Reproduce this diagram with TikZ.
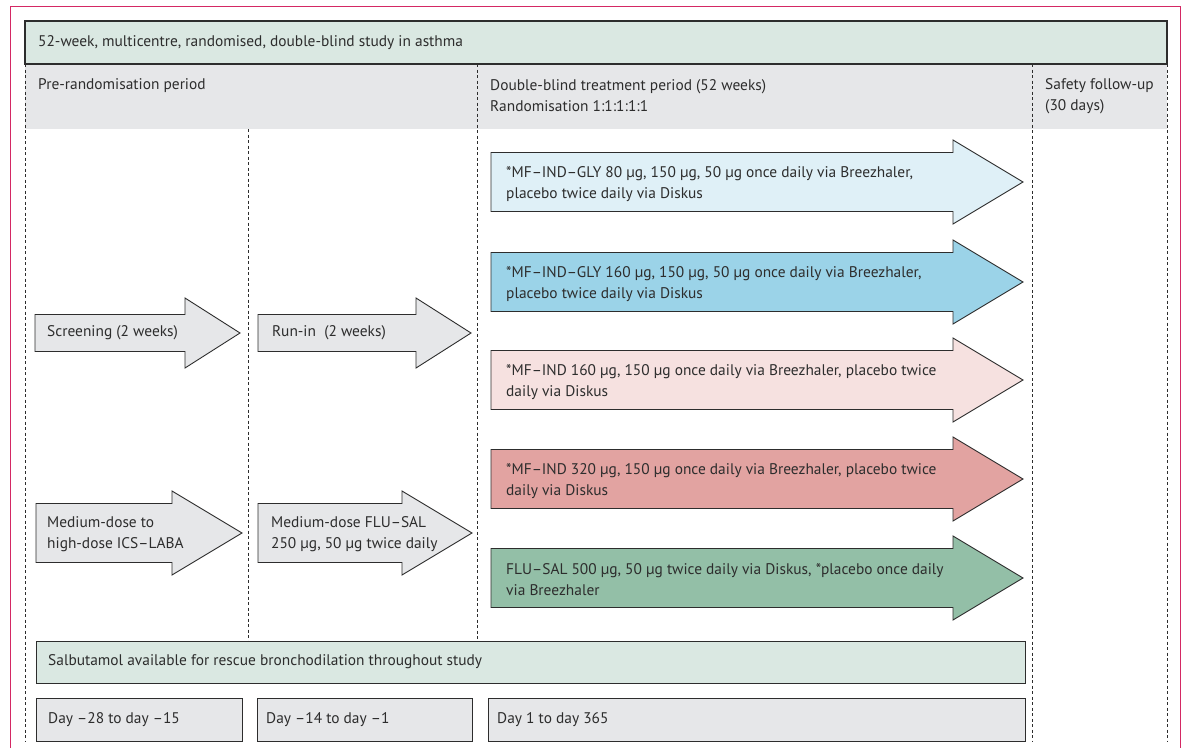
\documentclass[tikz,border=0pt]{standalone}
\usepackage{fontspec}
\setmainfont{PT Sans}
\definecolor{frame}{RGB}{212,40,100}
\definecolor{hdrgreen}{RGB}{218,232,226}
\definecolor{bandgrey}{RGB}{230,231,233}
\definecolor{ink}{RGB}{45,45,45}
\definecolor{aone}{RGB}{223,240,247}
\definecolor{atwo}{RGB}{155,211,232}
\definecolor{athree}{RGB}{246,225,224}
\definecolor{afour}{RGB}{226,163,161}
\definecolor{afive}{RGB}{147,191,167}
\newcommand\fatarrow[8]{%
  \draw[arrowbox, fill=#8] (#2,#5-#6) -- (#3,#5-#6) -- (#3,#5-#7) -- (#4,#5) -- (#3,#5+#7) -- (#3,#5+#6) -- (#2,#5+#6) -- cycle;
  \coordinate (#1) at (#2,#5);}
\begin{document}
\begin{tikzpicture}[x=1pt,y=-1pt,
  arrowbox/.style={draw=ink, line width=0.9pt, line join=miter},
  plainbox/.style={draw=ink, line width=0.9pt},
  divider/.style={draw=ink, line width=0.9pt, dash pattern=on 3pt off 2.5pt},
  lbl/.style={anchor=west, inner sep=0pt, text=ink, font=\fontsize{15.4}{21}\selectfont, align=left}]
\useasboundingbox (0,0) rectangle (1186,748);
% outer frame
\draw[frame, line width=1pt] (10,748) -- (10,6) -- (1180,6) -- (1180,748);
% header + band
\fill[bandgrey] (25,64) rectangle (1167,129);
\draw[plainbox, fill=hdrgreen, line width=1.1pt] (25,21) rectangle (1167,64);
\node[lbl] (title) at (38,43) {52-week, multicentre, randomised, double-blind study in asthma};
% dividers
\draw[divider] (25,64) -- (25,741);
\draw[divider] (248,129) -- (248,641);
\draw[divider] (477,64) -- (477,641);
\draw[divider] (1032,64) -- (1032,741);
\draw[divider] (1167,64) -- (1167,741);
% period labels
\node[lbl] (pre) at (38,86) {Pre-randomisation period};
\node[lbl] (dbl) at (490,96) {Double-blind treatment period (52 weeks)\\Randomisation 1:1:1:1:1};
\node[lbl] (safe) at (1045,96) {Safety follow-up\\(30 days)};
% pre-randomisation arrows
\fatarrow{scr}{35}{185}{240}{333}{18.5}{35}{bandgrey}
\node[lbl] (scrt) at (47,333) {Screening (2 weeks)};
\fatarrow{run}{258}{416}{471}{333}{18.5}{35}{bandgrey}
\node[lbl] (runt) at (272,333) {Run-in\ \ (2 weeks)};
\fatarrow{med}{36}{172}{242}{533}{29.5}{42}{bandgrey}
\node[lbl] (medt) at (47,534) {Medium-dose to\\high-dose ICS–LABA};
\fatarrow{flu}{258}{402}{472}{533}{29.5}{42}{bandgrey}
\node[lbl] (flut) at (271,534) {Medium-dose FLU–SAL\\250 µg, 50 µg twice daily};
% treatment arrows
\fatarrow{t1}{491}{953}{1023}{182}{29.5}{42}{aone}
\node[lbl] (t1t) at (506,184) {*MF–IND–GLY 80 µg, 150 µg, 50 µg once daily via Breezhaler,\\placebo twice daily via Diskus};
\fatarrow{t2}{491}{953}{1023}{282}{29.5}{42}{atwo}
\node[lbl] (t2t) at (506,284) {*MF–IND–GLY 160 µg, 150 µg, 50 µg once daily via Breezhaler,\\placebo twice daily via Diskus};
\fatarrow{t3}{491}{953}{1023}{380}{29.5}{42}{athree}
\node[lbl] (t3t) at (506,382) {*MF–IND 160 µg, 150 µg once daily via Breezhaler, placebo twice\\daily via Diskus};
\fatarrow{t4}{491}{953}{1023}{479}{29.5}{42}{afour}
\node[lbl] (t4t) at (506,481) {*MF–IND 320 µg, 150 µg once daily via Breezhaler, placebo twice\\daily via Diskus};
\fatarrow{t5}{491}{953}{1023}{578}{29.5}{42}{afive}
\node[lbl] (t5t) at (506,580) {FLU–SAL 500 µg, 50 µg twice daily via Diskus, *placebo once daily\\via Breezhaler};
% bottom boxes
\draw[plainbox, fill=hdrgreen] (36,641) rectangle (1025,683);
\node[lbl] (salb) at (48,662) {Salbutamol available for rescue bronchodilation throughout study};
\draw[plainbox, fill=bandgrey] (36,698) rectangle (242,741);
\node[lbl] (d1) at (48,720) {Day –28 to day –15};
\draw[plainbox, fill=bandgrey] (257,698) rectangle (472,741);
\node[lbl] (d2) at (266,720) {Day –14 to day –1};
\draw[plainbox, fill=bandgrey] (488,698) rectangle (1025,741);
\node[lbl] (d3) at (497,720) {Day 1 to day 365};
\end{tikzpicture}
\end{document}
